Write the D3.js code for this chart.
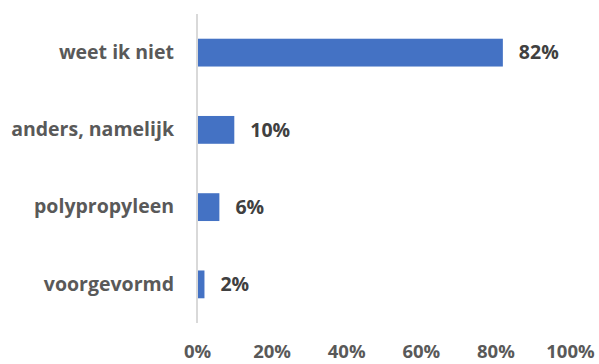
<!DOCTYPE html>
<html>
<head>
<meta charset="utf-8">
<script src="https://cdn.jsdelivr.net/npm/d3@7"></script>
<style>
  html, body { margin: 0; padding: 0; background: #fff; }
  svg { display: block; }
  text { font-family: "Open Sans", "Liberation Sans", sans-serif; font-weight: 700; }
</style>
</head>
<body>
<svg id="chart" width="599" height="364"></svg>
<script>
// Answer categories, top to bottom
const categories = ["weet ik niet", "anders, namelijk", "polypropyleen", "voorgevormd"];
// Share of respondents (%)
const values = [82, 10, 6, 2];
// X-axis tick values (%)
const tickValues = [0, 20, 40, 60, 80, 100];

const svg = d3.select("#chart");
const W = 599, H = 364;
const margin = { left: 197, right: 29, top: 14, bottom: 41 };

const x = d3.scaleLinear()
  .domain([0, 100])
  .range([margin.left, W - margin.right]);

const y = d3.scaleBand()
  .domain(categories)
  .range([margin.top, H - margin.bottom])
  .paddingInner(0.64)
  .paddingOuter(0.32);

// Bars
svg.append("g")
  .selectAll("rect")
  .data(values)
  .join("rect")
  .attr("x", x(0))
  .attr("y", (d, i) => y(categories[i]))
  .attr("width", d => x(d) - x(0))
  .attr("height", y.bandwidth())
  .attr("fill", "#4472C4");

// Vertical category axis line
svg.append("line")
  .attr("x1", x(0)).attr("x2", x(0))
  .attr("y1", margin.top).attr("y2", H - margin.bottom)
  .attr("stroke", "#D9D9D9")
  .attr("stroke-width", 2);

// Category labels
const yAxis = d3.axisLeft(y).tickSize(0).tickPadding(23);
const gy = svg.append("g")
  .attr("transform", `translate(${x(0)},0)`)
  .call(yAxis);
gy.select(".domain").remove();
gy.selectAll("text")
  .attr("fill", "#595959")
  .style("font-size", "19.5px");

// Value labels
svg.append("g")
  .selectAll("text")
  .data(values)
  .join("text")
  .attr("x", d => x(d) + 16)
  .attr("y", (d, i) => y(categories[i]) + y.bandwidth() / 2)
  .attr("dy", "0.35em")
  .attr("fill", "#404040")
  .style("font-size", "19.5px")
  .text(d => d + "%");

// X-axis tick labels (no axis line)
const xAxis = d3.axisBottom(x)
  .tickValues(tickValues)
  .tickSize(0)
  .tickPadding(0)
  .tickFormat(d => d + "%");
const gx = svg.append("g")
  .attr("transform", `translate(0,${H - 20})`)
  .call(xAxis);
gx.select(".domain").remove();
gx.selectAll("text")
  .attr("fill", "#595959")
  .attr("dy", "0")
  .attr("y", 14)
  .style("font-size", "18.5px");
</script>
</body>
</html>
